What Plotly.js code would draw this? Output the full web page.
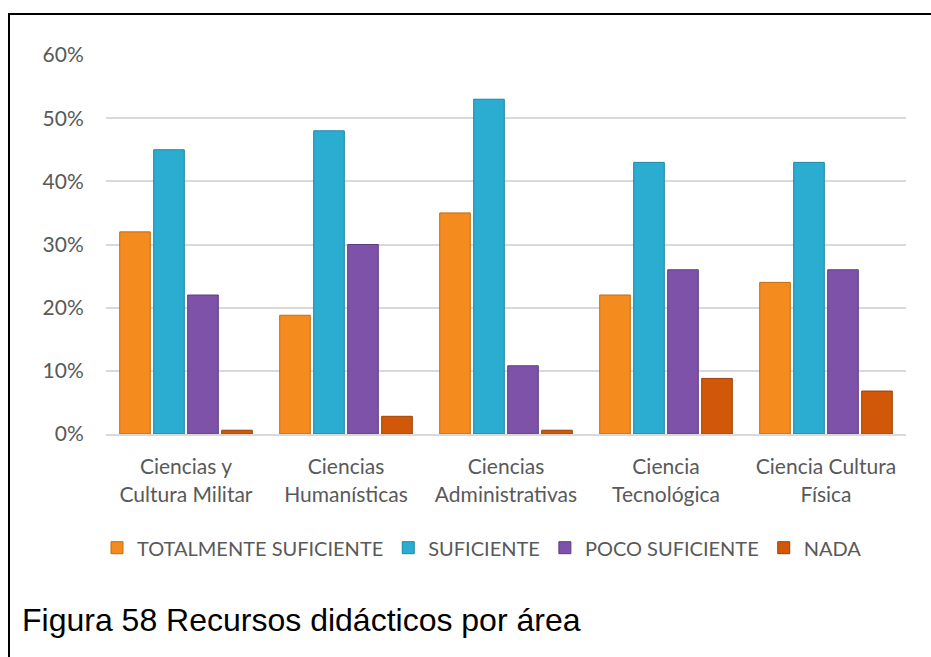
<!DOCTYPE html>
<html>
<head>
<meta charset="utf-8">
<script src="https://cdn.plot.ly/plotly-3.0.1.min.js"></script>
<style>
  html, body { margin: 0; padding: 0; background: #fff; }
  #chart { width: 931px; height: 657px; position: absolute; left: 0; top: 0; }
  #frame { position: absolute; left: 8px; top: 13px; width: 940px; height: 700px;
           border-left: 2px solid #000; border-top: 2px solid #000; pointer-events: none; }
</style>
</head>
<body>
<div id="chart"></div>
<div id="frame"></div>
<script>
const categories = [
  "Ciencias y<br>Cultura Militar",
  "Ciencias<br>Humanísticas",
  "Ciencias<br>Administrativas",
  "Ciencia<br>Tecnológica",
  "Ciencia Cultura<br>Física"
];
const seriesNames = ["TOTALMENTE SUFICIENTE", "SUFICIENTE", "POCO SUFICIENTE", "NADA"];
const totalmente = [0.32, 0.188, 0.35, 0.22, 0.24];
const suficiente = [0.45, 0.48, 0.53, 0.43, 0.43];
const poco = [0.22, 0.30, 0.108, 0.26, 0.26];
const nada = [0.006, 0.028, 0.006, 0.088, 0.068];
const yTicks = [0, 0.1, 0.2, 0.3, 0.4, 0.5, 0.6];
const yTickLabels = ["0%", "10%", "20%", "30%", "40%", "50%", "60%"];
const figureCaption = "Figura 58 Recursos didácticos por área";

const fills = ["#F48B1E", "#2AADD0", "#7D52A8", "#D05808"];
const edges = ["#C46A10", "#1E86A3", "#5E3C82", "#9E4005"];
const values = [totalmente, suficiente, poco, nada];

const traces = values.map((v, i) => ({
  type: "bar",
  name: seriesNames[i],
  x: categories,
  y: v,
  marker: { color: fills[i], line: { color: edges[i], width: 1 } },
  hoverinfo: "skip"
}));

const font = "Lato, 'Open Sans', sans-serif";

const layout = {
  width: 931, height: 657,
  margin: { l: 106, r: 25, t: 55, b: 223 },
  paper_bgcolor: "#fff",
  plot_bgcolor: "#fff",
  barmode: "group",
  bargap: 0.15,
  bargroupgap: 0.1,
  showlegend: true,
  legend: {
    orientation: "h",
    x: 0.47, xanchor: "center",
    y: -0.30, yanchor: "middle",
    font: { family: font, size: 20, color: "#595959" },
    traceorder: "normal",
    itemclick: false
  },
  xaxis: {
    type: "category",
    showgrid: false,
    showline: true,
    linecolor: "#d9d9d9",
    linewidth: 2,
    ticks: "outside",
    ticklen: 13,
    tickcolor: "rgba(0,0,0,0)",
    tickfont: { family: font, size: 21, color: "#595959" },
    fixedrange: true
  },
  yaxis: {
    range: [0, 0.6],
    tickvals: yTicks,
    ticktext: yTickLabels,
    showgrid: true,
    gridcolor: "#d9d9d9",
    gridwidth: 2,
    zeroline: false,
    showline: false,
    ticks: "outside",
    ticklen: 17,
    tickcolor: "rgba(0,0,0,0)",
    tickfont: { family: font, size: 21, color: "#595959" },
    fixedrange: true
  },
  annotations: [{
    text: figureCaption,
    xref: "paper", yref: "paper",
    x: -0.108, xanchor: "left",
    y: -0.49, yanchor: "middle",
    showarrow: false,
    font: { family: "Arial, 'Liberation Sans', sans-serif", size: 32, color: "#000" }
  }]
};

Plotly.newPlot("chart", traces, layout, { displayModeBar: false, staticPlot: true });
</script>
</body>
</html>
